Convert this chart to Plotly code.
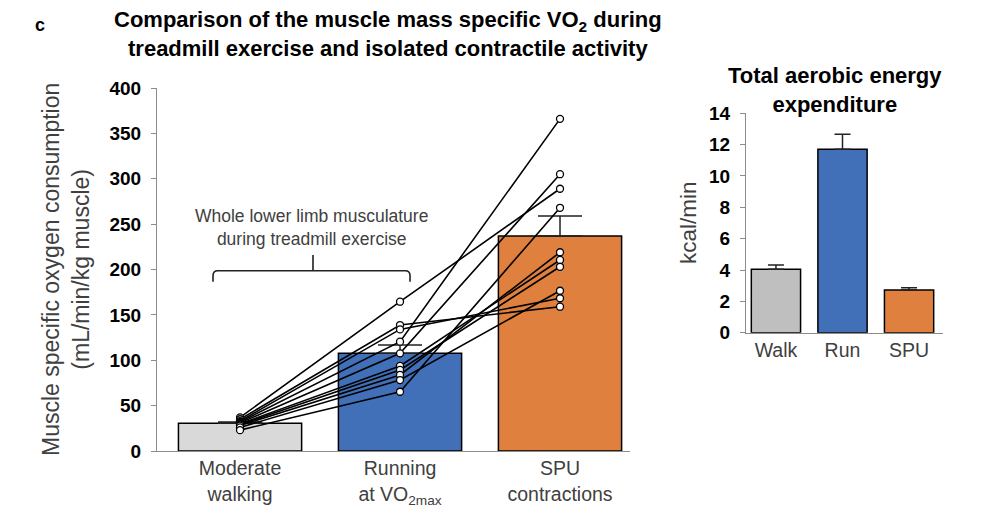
import plotly.graph_objects as go

# ---------------- data ----------------
left_categories = ["Moderate<br>walking", "Running<br>at VO<sub>2max</sub>", "SPU<br>contractions"]
left_means = [30.5, 107.6, 237.0]
left_sem = [1.5, 9.2, 22.0]
left_colors = ["#D9D9D9", "#4170B8", "#E0803E"]

walk_vals = [37, 35, 33, 32, 31, 30, 29, 28, 26, 23]
run_vals = [164.5, 138.8, 134.0, 120.5, 107.6, 93.7, 89.3, 83.8, 78.2, 65.3]
spu_vals = [289.0, 159.0, 168.3, 366.0, 305.0, 210.5, 203.0, 219.0, 176.6, 268.0]

right_categories = ["Walk", "Run", "SPU"]
right_means = [4.05, 11.7, 2.72]
right_sem = [0.27, 0.96, 0.15]
right_colors = ["#BFBFBF", "#4170B8", "#E0803E"]

left_yticks = [0, 50, 100, 150, 200, 250, 300, 350, 400]
right_yticks = [0, 2, 4, 6, 8, 10, 12, 14]

FONT = "Liberation Sans, Arial, sans-serif"
AXIS_GRAY = "#8C8C8C"
TEXT_GRAY = "#404040"

# the page body has an 8px margin: size the figure so it fills the window
PAGE_OFF = 8
W, H = 1000 - PAGE_OFF, 525 - PAGE_OFF


def fx(px):
    return (px - PAGE_OFF) / W


def fy(py):
    return 1 - (py - PAGE_OFF) / H


fig = go.Figure()

# left bars
fig.add_trace(go.Bar(
    x=list(range(len(left_categories))), y=left_means, width=0.77,
    marker=dict(color=left_colors, line=dict(color="black", width=1.5)),
    error_y=dict(type="data", array=left_sem, arrayminus=[0] * len(left_sem),
                 symmetric=False, color="#222222", thickness=1.5, width=22),
    xaxis="x", yaxis="y", showlegend=False, hoverinfo="skip"))

# individual subject lines
for w, r, s in zip(walk_vals, run_vals, spu_vals):
    fig.add_trace(go.Scatter(
        x=[0, 1, 2], y=[w, r, s], mode="lines",
        line=dict(color="black", width=1.6),
        xaxis="x", yaxis="y", showlegend=False, hoverinfo="skip"))

# individual subject markers on top
px_, py_ = [], []
for w, r, s in zip(walk_vals, run_vals, spu_vals):
    px_ += [0, 1, 2]
    py_ += [w, r, s]
fig.add_trace(go.Scatter(
    x=px_, y=py_, mode="markers",
    marker=dict(symbol="circle", size=7, color="white",
                line=dict(color="black", width=1.3)),
    xaxis="x", yaxis="y", showlegend=False, hoverinfo="skip"))

# right bars
fig.add_trace(go.Bar(
    x=list(range(len(right_categories))), y=right_means, width=0.74,
    marker=dict(color=right_colors, line=dict(color="black", width=1.5)),
    error_y=dict(type="data", array=right_sem, arrayminus=[0] * len(right_sem),
                 symmetric=False, color="#222222", thickness=1.5, width=8),
    xaxis="x2", yaxis="y2", showlegend=False, hoverinfo="skip"))

common_y = dict(ticks="outside", ticklen=5, tickcolor=AXIS_GRAY, tickwidth=1,
                showline=True, linecolor=AXIS_GRAY, linewidth=1,
                showgrid=False, zeroline=False, automargin=False,
                tickfont=dict(family=FONT, size=19, color="black", weight="bold"),
                ticklabelstandoff=6)
common_x = dict(showline=True, linecolor=AXIS_GRAY, linewidth=1, ticks="",
                showgrid=False, zeroline=False, automargin=False,
                tickfont=dict(family=FONT, size=19.5, color=TEXT_GRAY))

fig.update_layout(
    width=W, height=H,
    margin=dict(l=0, r=0, t=0, b=0, autoexpand=False),
    paper_bgcolor="white", plot_bgcolor="white",
    showlegend=False,
    font=dict(family=FONT),
    xaxis=dict(domain=[fx(157), fx(630)], range=[-0.519, 2.4375],
               tickvals=[0, 1, 2], ticktext=left_categories, anchor="y", **common_x),
    yaxis=dict(domain=[fy(451), fy(88)], range=[0, 400], tickvals=left_yticks,
               anchor="x", **common_y),
    xaxis2=dict(domain=[fx(746), fx(943)], range=[-0.45, 2.51],
                tickvals=[0, 1, 2], ticktext=right_categories, anchor="y2", **common_x),
    yaxis2=dict(domain=[fy(332.7), fy(113.3)], range=[0, 14], tickvals=right_yticks,
                anchor="x2", **common_y),
)

# bracket over walking + running
bx0, bx1, bxm = -0.169, 1.0625, 0.456
by_top, by_end, by_tick = 198.7, 186.6, 216.0
rx, ry = 0.03, 5.5
bracket = (f"M {bx0},{by_end} L {bx0},{by_top - ry} Q {bx0},{by_top} {bx0 + rx},{by_top} "
           f"L {bx1 - rx},{by_top} Q {bx1},{by_top} {bx1},{by_top - ry} L {bx1},{by_end} "
           f"M {bxm},{by_top} L {bxm},{by_tick}")
fig.add_shape(type="path", path=bracket, xref="x", yref="y",
              line=dict(color="#222222", width=1.6))


def ann(text, x, y, size, color="black", bold=False, angle=0):
    return dict(text=text, x=fx(x), y=fy(y), xref="paper", yref="paper",
                xanchor="center", yanchor="middle", showarrow=False, textangle=angle,
                font=dict(family=FONT, size=size, color=color,
                          weight="bold" if bold else "normal"))


annotations = [
    ann("c", 40, 25, 18, bold=True),
    ann("Comparison of the muscle mass specific VO<sub>2</sub> during<br>"
        "treadmill exercise and isolated contractile activity", 388, 34, 22, bold=True),
    ann("Total aerobic energy<br>expenditure", 835, 90, 22, bold=True),
    ann("Muscle specific oxygen consumption<br>(mL/min/kg muscle)", 66, 270, 23,
        color=TEXT_GRAY, angle=-90),
    ann("kcal/min", 688, 223, 22.5, color=TEXT_GRAY, angle=-90),
    ann("Whole lower limb musculature<br>during treadmill exercise", 311, 228, 17.5,
        color=TEXT_GRAY),
]
fig.update_layout(annotations=annotations)

fig.write_html("out.html")
